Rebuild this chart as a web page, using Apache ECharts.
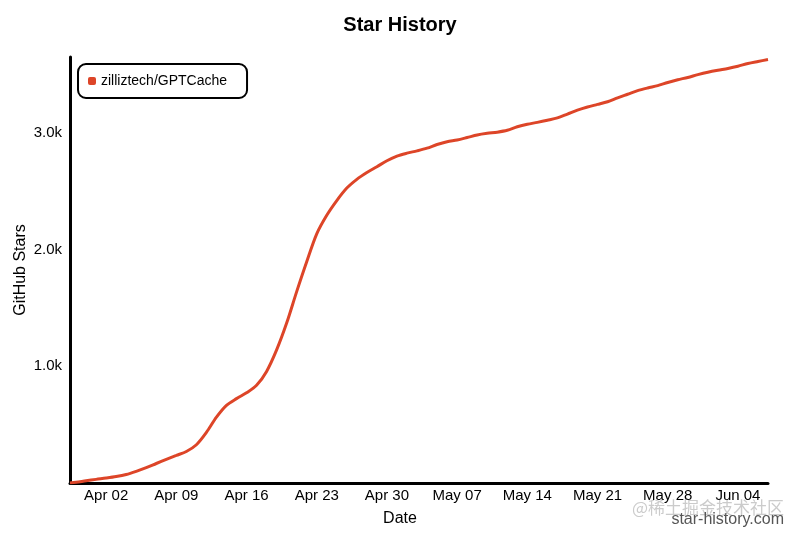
<!DOCTYPE html>
<html>
<head>
<meta charset="utf-8">
<style>html,body{margin:0;padding:0;background:#fff}#c{width:800px;height:533px}</style>
<script src="https://cdn.jsdelivr.net/npm/echarts@6/dist/echarts.min.js"></script>
</head>
<body>
<div id="c"></div>
<script>
const seriesName = 'zilliztech/GPTCache';
const dates = [
 '2023-03-29T09:30','2023-03-30','2023-03-31','2023-04-01','2023-04-02','2023-04-03','2023-04-04','2023-04-05','2023-04-06',
 '2023-04-07','2023-04-08','2023-04-09','2023-04-10','2023-04-11','2023-04-12','2023-04-13','2023-04-14','2023-04-15','2023-04-16',
 '2023-04-17','2023-04-18','2023-04-19','2023-04-20','2023-04-21','2023-04-22','2023-04-23','2023-04-24','2023-04-25','2023-04-26',
 '2023-04-27','2023-04-28','2023-04-29','2023-04-30','2023-05-01','2023-05-02','2023-05-03','2023-05-04','2023-05-05','2023-05-06',
 '2023-05-07','2023-05-08','2023-05-09','2023-05-10','2023-05-11','2023-05-12','2023-05-13','2023-05-14','2023-05-15','2023-05-16',
 '2023-05-17','2023-05-18','2023-05-19','2023-05-20','2023-05-21','2023-05-22','2023-05-23','2023-05-24','2023-05-25','2023-05-26',
 '2023-05-27','2023-05-28','2023-05-29','2023-05-30','2023-05-31','2023-06-01','2023-06-02','2023-06-03','2023-06-04','2023-06-05',
 '2023-06-06','2023-06-07'
];
const stars = [
 0,6,19,31,42,55,73,100,131,
 167,202,236,270,328,434,564,665,723,773,
 837,956,1140,1370,1640,1896,2135,2294,2420,2527,
 2602,2660,2710,2761,2801,2826,2846,2869,2900,2924,
 2939,2960,2982,2996,3006,3022,3052,3074,3090,3108,
 3128,3161,3195,3222,3244,3267,3300,3331,3362,3385,
 3405,3432,3455,3475,3499,3520,3537,3552,3571,3595,
 3612,3628
];
const tickDates = ['2023-04-02','2023-04-09','2023-04-16','2023-04-23','2023-04-30','2023-05-07','2023-05-14','2023-05-21','2023-05-28','2023-06-04'];
const yTicks = [1000, 2000, 3000];
const yMax = 3650;

const months = ['Jan','Feb','Mar','Apr','May','Jun','Jul','Aug','Sep','Oct','Nov','Dec'];
const DAY = 86400000;
const toTs = s => new Date(s.length > 10 ? s + ':00Z' : s + 'T00:00:00Z').getTime();
const base = toTs(tickDates[0]);
const toDay = s => (toTs(s) - base) / DAY;
const xs = dates.map(toDay);

const chart = echarts.init(document.getElementById('c'));
const font = 'Liberation Sans, Arial, sans-serif';
chart.setOption({
  animation: false,
  textStyle: { fontFamily: font },
  title: { text: 'Star History', left: 'center', top: 10, textStyle: { fontSize: 20, fontWeight: 'bold', color: '#000', fontFamily: font } },
  legend: {
    left: 78, top: 64, padding: [10, 20, 10, 10],
    borderColor: '#000', borderWidth: 2, borderRadius: 8,
    icon: 'roundRect', itemWidth: 8, itemHeight: 8, itemGap: 5,
    textStyle: { fontSize: 14, color: '#000', fontFamily: font }
  },
  grid: { left: 70, right: 32, top: 57, bottom: 50, containLabel: false, outerBoundsMode: 'none' },
  xAxis: {
    type: 'value',
    min: xs[0], max: xs[xs.length - 1],
    name: 'Date', nameLocation: 'middle', nameGap: 28, nameMoveOverlap: false,
    nameTextStyle: { fontSize: 16, color: '#000', padding: [0, 38, 0, 0] },
    axisLine: { onZero: false, lineStyle: { color: '#000', width: 3 } },
    axisTick: { show: false },
    splitLine: { show: false },
    axisLabel: {
      customValues: tickDates.map(toDay),
      fontSize: 15, color: '#000', margin: 5,
      formatter: v => { const d = new Date(base + v * DAY); return months[d.getUTCMonth()] + ' ' + String(d.getUTCDate()).padStart(2, '0'); }
    }
  },
  yAxis: {
    type: 'value', min: 0, max: yMax,
    name: 'GitHub Stars', nameLocation: 'middle', nameGap: 41, nameMoveOverlap: false,
    nameTextStyle: { fontSize: 16, color: '#000' },
    axisLine: { show: true, onZero: false, lineStyle: { color: '#000', width: 3 } },
    axisTick: { show: false },
    splitLine: { show: false },
    axisLabel: {
      customValues: yTicks,
      fontSize: 15, color: '#000', margin: 8,
      formatter: v => (v / 1000).toFixed(1) + 'k'
    }
  },
  series: [{
    name: seriesName, type: 'line', smooth: 0.3, showSymbol: false,
    data: xs.map((x, i) => [x, stars[i]]),
    lineStyle: { color: '#dd4528', width: 3 },
    itemStyle: { color: '#dd4528' }
  }],
  graphic: [
    { type: 'text', right: 16, top: 499, style: { text: '@稀土掘金技术社区', fontSize: 17, fill: 'rgba(160,160,160,0.55)', fontFamily: 'Noto Sans CJK SC, sans-serif' } },
    { type: 'text', right: 16, top: 512, style: { text: 'star-history.com', fontSize: 16, fill: '#555', fontFamily: font } }
  ]
});
</script>
</body>
</html>
